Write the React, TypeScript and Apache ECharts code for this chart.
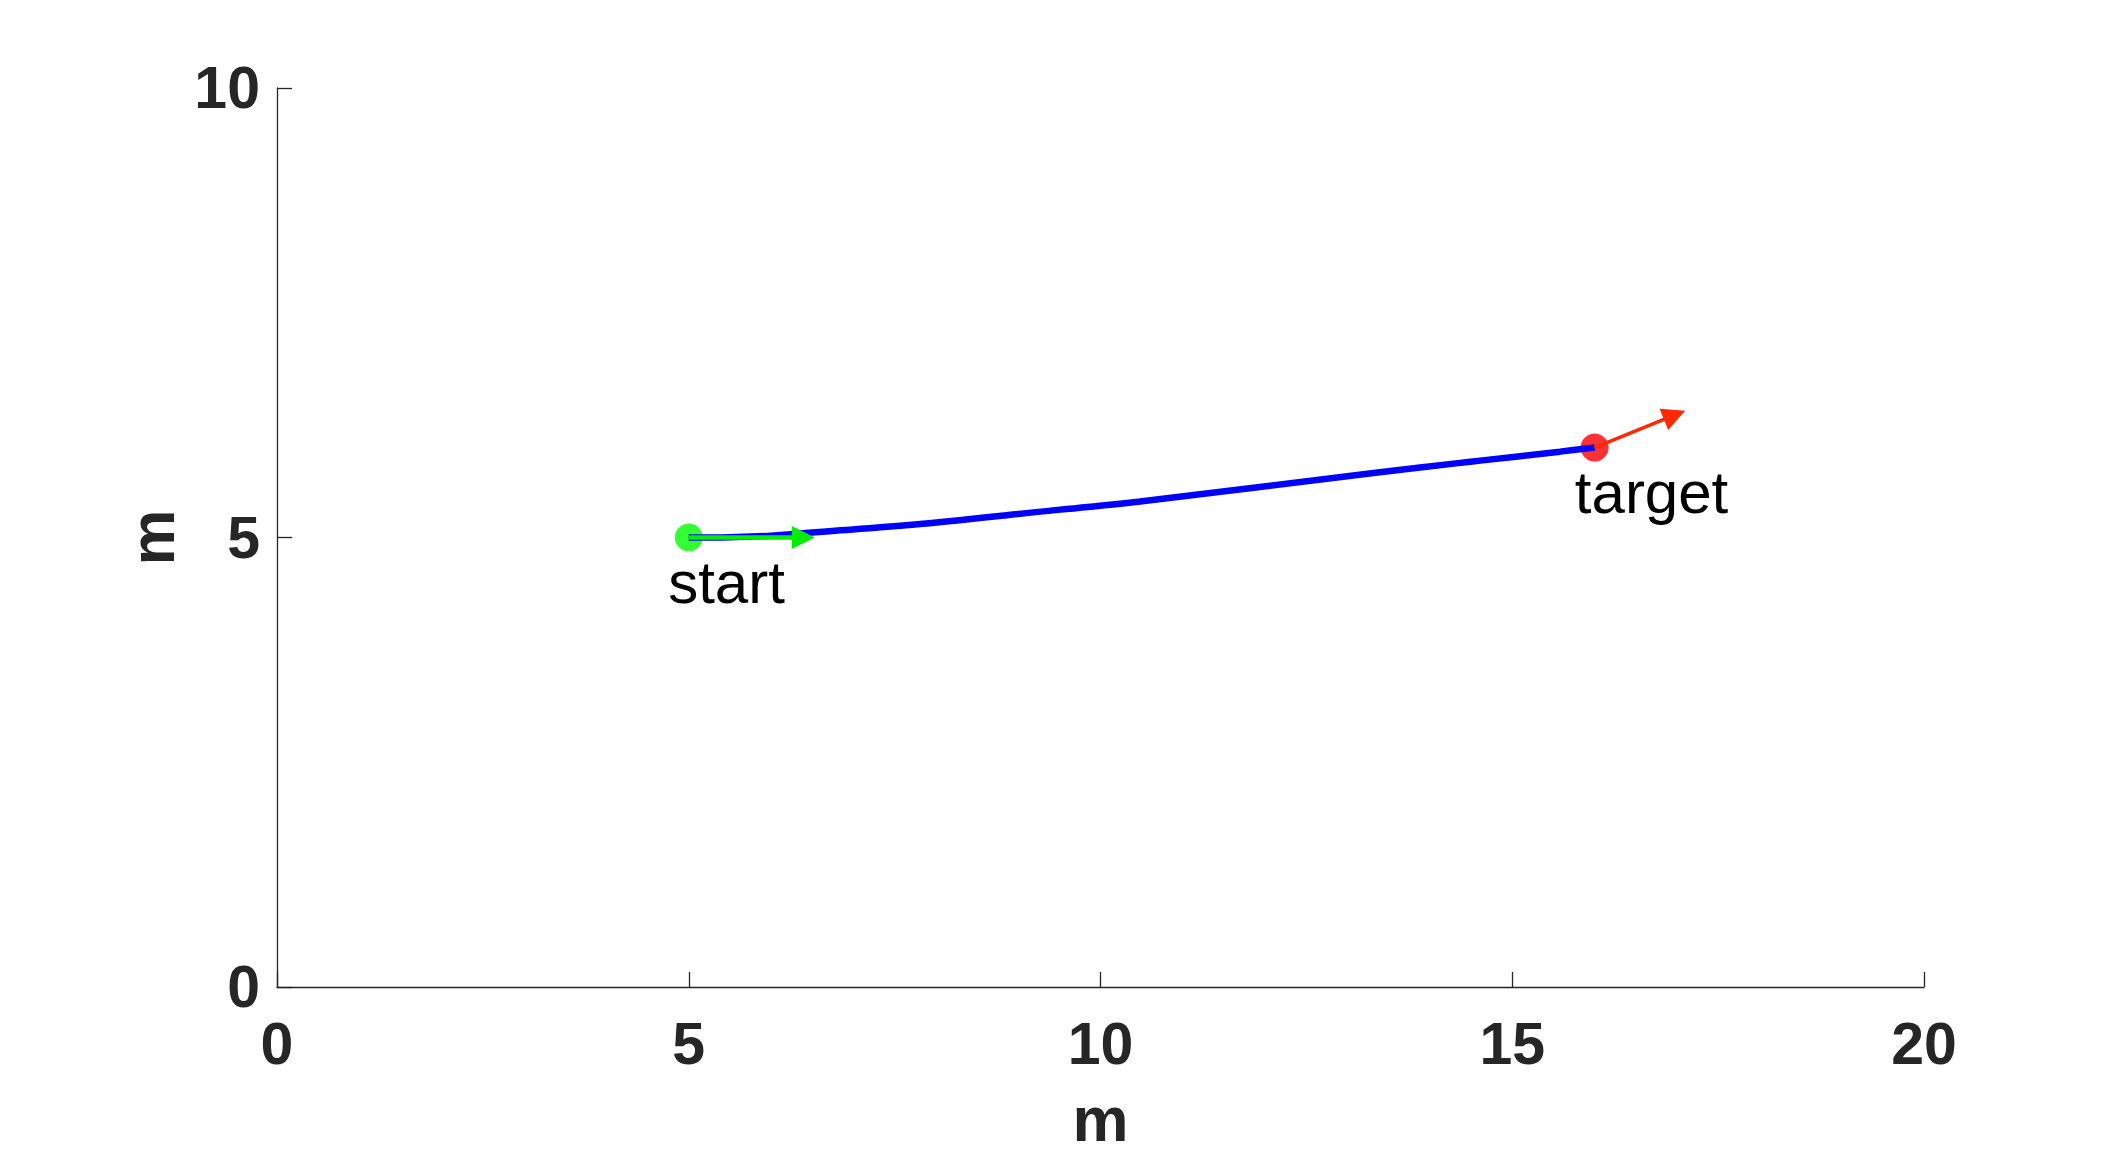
import React, { useEffect, useRef } from "react";
import * as echarts from "echarts";

const xTicks = [0, 5, 10, 15, 20];
const yTicks = [0, 5, 10];
const axisTitle = "m";

// trajectory (blue curve)
const pathX = [5, 5.5, 6, 6.84, 7.81, 9.51, 10.48, 13.39, 14.37, 14.61, 15.58, 16];
const pathY = [5, 5.004, 5.02, 5.08, 5.15, 5.31, 5.4, 5.725, 5.83, 5.855, 5.955, 6.0];

// start / target points
const startPoint = [5, 5];
const targetPoint = [16, 6];

// arrows: [x0, y0, u, v]
const startArrow = [5, 5, 1.53, 0];
const targetArrow = [16, 6, 1.1, 0.41];

// text labels: [x, y, text]
const pointLabels: [number, number, string][] = [
  [4.75, 4.5, "start"],
  [15.76, 5.5, "target"],
];

const FONT = "'Liberation Sans', Arial, Helvetica, sans-serif";
const AX = "#262626";

function arrowRender(color: string, lineW: number) {
  return (params: any, api: any) => {
    const x0 = api.value(0), y0 = api.value(1), u = api.value(2), v = api.value(3);
    const p0 = api.coord([x0, y0]);
    const p1 = api.coord([x0 + u, y0 + v]);
    const dx = p1[0] - p0[0], dy = p1[1] - p0[1];
    const len = Math.sqrt(dx * dx + dy * dy) || 1;
    const ux = dx / len, uy = dy / len;
    const headL = 23, headW = 11.5;
    const bx = p1[0] - ux * headL, by = p1[1] - uy * headL;
    const nx = -uy, ny = ux;
    return {
      type: "group",
      children: [
        {
          type: "line",
          shape: { x1: p0[0], y1: p0[1], x2: bx + ux * 2, y2: by + uy * 2 },
          style: { stroke: color, lineWidth: lineW },
        },
        {
          type: "polygon",
          shape: {
            points: [
              [p1[0], p1[1]],
              [bx + nx * headW, by + ny * headW],
              [bx - nx * headW, by - ny * headW],
            ],
          },
          style: { fill: color },
        },
      ],
    };
  };
}

export default function App() {
  const ref = useRef<HTMLDivElement>(null);
  useEffect(() => {
    document.body.style.margin = "0";
    const chart = echarts.init(ref.current!, null, { renderer: "svg" });
    const pathData = pathX.map((x, i) => [x, pathY[i]]);
    chart.setOption({
      animation: false,
      backgroundColor: "#ffffff",
      grid: { left: 277, right: 202, top: 88, bottom: 171, containLabel: false },
      xAxis: {
        type: "value",
        min: xTicks[0],
        max: xTicks[xTicks.length - 1],
        interval: 5,
        name: axisTitle,
        nameLocation: "middle",
        nameGap: 100,
        nameMoveOverlap: false,
        nameTextStyle: { fontFamily: FONT, fontWeight: "bold", fontSize: 63, color: AX },
        axisLine: { show: true, onZero: false, lineStyle: { color: AX, width: 1.3 } },
        axisTick: { show: true, inside: true, length: 15, lineStyle: { color: AX, width: 1.3 } },
        axisLabel: { fontFamily: FONT, fontWeight: "bold", fontSize: 59, color: AX, margin: 27 },
        splitLine: { show: false },
      },
      yAxis: {
        type: "value",
        min: yTicks[0],
        max: yTicks[yTicks.length - 1],
        interval: 5,
        name: axisTitle,
        nameLocation: "middle",
        nameGap: 94,
        nameRotate: 90,
        nameMoveOverlap: false,
        nameTextStyle: { fontFamily: FONT, fontWeight: "bold", fontSize: 63, color: AX },
        axisLine: { show: true, onZero: false, lineStyle: { color: AX, width: 1.3 } },
        axisTick: { show: true, inside: true, length: 15, lineStyle: { color: AX, width: 1.3 } },
        axisLabel: { fontFamily: FONT, fontWeight: "bold", fontSize: 59, color: AX, margin: 17 },
        splitLine: { show: false },
      },
      series: [
        {
          type: "scatter",
          z: 2,
          symbol: "circle",
          symbolSize: 28,
          data: [
            { value: startPoint, itemStyle: { color: "#00ff00" } },
            { value: targetPoint, itemStyle: { color: "#ff0000" } },
          ],
        },
        {
          type: "line",
          z: 3,
          data: pathData,
          smooth: 0.4,
          showSymbol: false,
          symbol: "none",
          lineStyle: { color: "#0000ff", width: 6.5 },
        },
        {
          type: "custom",
          z: 4,
          renderItem: arrowRender("#00ee00", 4.5),
          data: [startArrow],
        },
        {
          type: "custom",
          z: 4,
          renderItem: arrowRender("#ff2a00", 3.5),
          data: [targetArrow],
        },
        {
          type: "custom",
          z: 5,
          renderItem: (params: any, api: any) => {
            const p = api.coord([api.value(0), api.value(1)]);
            const idx = params.dataIndex;
            return {
              type: "text",
              x: p[0],
              y: p[1],
              style: {
                text: pointLabels[idx][2],
                fontFamily: FONT,
                fontSize: 60,
                fill: "#000000",
                align: "left",
                verticalAlign: "middle",
              },
            };
          },
          data: pointLabels.map((d) => [d[0], d[1]]),
        },
      ],
    });
    return () => chart.dispose();
  }, []);
  return (
    <div
      ref={ref}
      style={{ position: "absolute", left: 0, top: 0, width: 2126, height: 1158 }}
    />
  );
}
